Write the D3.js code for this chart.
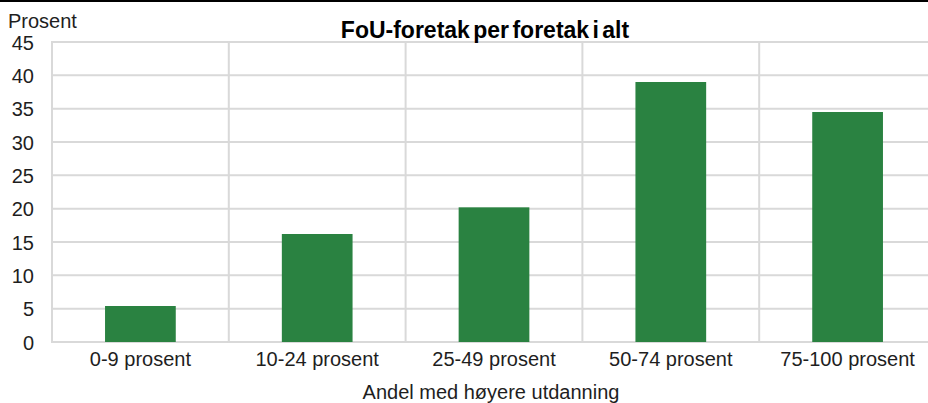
<!DOCTYPE html>
<html>
<head>
<meta charset="utf-8">
<script src="https://cdn.jsdelivr.net/npm/d3@7"></script>
<style>
  html, body { margin: 0; padding: 0; background: #fff; }
  svg { display: block; font-family: "Liberation Sans", Arial, sans-serif; }
</style>
</head>
<body>
<svg id="chart" width="928" height="403"></svg>
<script>
// Andel med høyere utdanning (kategorier) og andel FoU-foretak (prosent)
const categories = ["0-9 prosent", "10-24 prosent", "25-49 prosent", "50-74 prosent", "75-100 prosent"];
const values = [5.4, 16.2, 20.2, 39.0, 34.5];
const yTicks = [0, 5, 10, 15, 20, 25, 30, 35, 40, 45];

const chartTitle = "FoU-foretak per foretak i alt";
const yUnit = "Prosent";
const xTitle = "Andel med høyere utdanning";

const W = 928, H = 403;
const plot = { left: 52, right: 936, top: 42, bottom: 342 };

const svg = d3.select("#chart");
const textColor = "#1e1e1e";
const gridColor = "#d9d9d9";
const barColor = "#2a8241";

// Linje øverst
svg.append("rect").attr("x", 0).attr("y", 0).attr("width", W).attr("height", 2).attr("fill", "#000");

const x = d3.scaleBand()
  .domain(categories)
  .range([plot.left, plot.right])
  .paddingInner(0.6)
  .paddingOuter(0.3);

const y = d3.scaleLinear().domain([0, 45]).range([plot.bottom, plot.top]);

const step = x.step();

// Vannrette rutenettlinjer
svg.append("g").selectAll("line").data(yTicks).join("line")
  .attr("x1", plot.left).attr("x2", W)
  .attr("y1", d => y(d)).attr("y2", d => y(d))
  .attr("stroke", gridColor).attr("stroke-width", 2);

// Loddrette skillelinjer mellom kategoriene
svg.append("g").selectAll("line").data(categories.concat(["__end"])).join("line")
  .attr("x1", (d, i) => plot.left + i * step)
  .attr("x2", (d, i) => plot.left + i * step)
  .attr("y1", plot.top - 1).attr("y2", plot.bottom + 1)
  .attr("stroke", gridColor).attr("stroke-width", 2);

// Søyler
svg.append("g").selectAll("rect").data(values).join("rect")
  .attr("x", (d, i) => x(categories[i]))
  .attr("width", x.bandwidth())
  .attr("y", d => y(d))
  .attr("height", d => y(0) - y(d))
  .attr("fill", barColor);

// Y-akse
const yAxis = d3.axisLeft(y).tickValues(yTicks).tickSize(0).tickPadding(0).tickFormat(d3.format("d"));
const gy = svg.append("g").attr("transform", `translate(34,0)`).call(yAxis);
gy.select(".domain").remove();
gy.selectAll("text")
  .attr("fill", textColor)
  .attr("font-size", 20)
  .attr("font-family", "Liberation Sans, Arial, sans-serif")
  .attr("dy", "0.35em");

// X-akse
const xAxis = d3.axisBottom(x).tickSize(0).tickPadding(0);
const gx = svg.append("g").call(xAxis);
gx.select(".domain").remove();
gx.selectAll("text")
  .attr("y", 366)
  .attr("dy", 0)
  .attr("fill", textColor)
  .attr("font-size", 20)
  .attr("font-family", "Liberation Sans, Arial, sans-serif");

// Tekster
svg.append("text")
  .attr("x", 8).attr("y", 28)
  .attr("font-size", 20).attr("fill", textColor)
  .text(yUnit);

svg.append("text")
  .attr("x", 485).attr("y", 38)
  .attr("text-anchor", "middle")
  .attr("font-size", 23).attr("font-weight", "bold")
  .attr("word-spacing", -3)
  .attr("fill", "#000")
  .text(chartTitle);

svg.append("text")
  .attr("x", 491).attr("y", 399)
  .attr("text-anchor", "middle")
  .attr("font-size", 20).attr("fill", textColor)
  .text(xTitle);
</script>
</body>
</html>
